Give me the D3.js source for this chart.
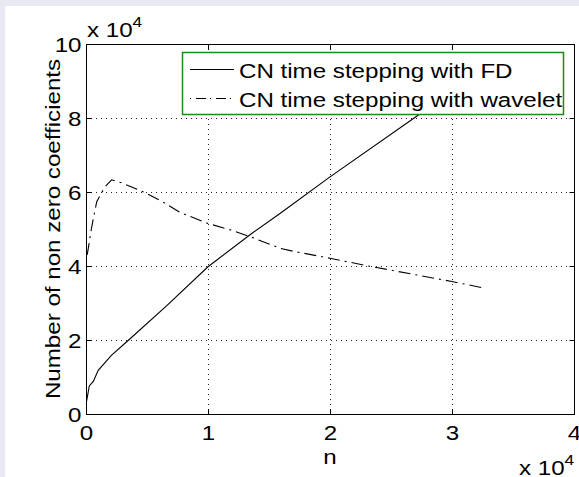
<!DOCTYPE html>
<html><head><meta charset="utf-8">
<script src="https://cdn.jsdelivr.net/npm/d3@7"></script>
<style>
body{margin:0;background:#e9e9f3;}
svg{display:block;font-family:"Liberation Sans",Arial,sans-serif;}
</style></head>
<body>
<svg id="chart" width="579" height="477"></svg>
<script>
// Data (n, number of non-zero coefficients)
const fdN   = [50, 270, 600, 1000, 2100, 3500, 6600, 10000, 13580, 15900, 20000, 27250, 32800];
const fdNnz = [3500, 7600, 8800, 11800, 15900, 20000, 29200, 39800, 48800, 54200, 64100, 80800, 93500];
const wvN   = [100, 470, 880, 1280, 1560, 2100, 2900, 4400, 6100, 7700, 10000, 11700, 13400, 15900, 17100, 20000, 23000, 30000, 32400];
const wvNnz = [43000, 50600, 57400, 59800, 61400, 63300, 62500, 60500, 57700, 54500, 51500, 49900, 48000, 44800, 43900, 42100, 40100, 35800, 34200];
const xTicks = [0, 10000, 20000, 30000, 40000];
const yTicks = [0, 20000, 40000, 60000, 80000, 100000];
const seriesNames = ["CN time stepping with FD", "CN time stepping with wavelet"];

const svg = d3.select("#chart");
const W = 579, H = 477;
const L = 86, R = 574, T = 44, B = 414;
const FS = 21;
const SX = 1.15; // horizontal glyph stretch

svg.append("rect").attr("x",0).attr("y",0).attr("width",W).attr("height",H).attr("fill","#e9e9f3");
svg.append("rect").attr("x",5).attr("y",6).attr("width",W-5).attr("height",H-6).attr("fill","#ffffff");

const x = d3.scaleLinear().domain([0,40000]).range([L,R]);
const y = d3.scaleLinear().domain([0,100000]).range([B,T]);

// grid
const g = svg.append("g");
g.selectAll(".gx").data(xTicks.slice(1,-1)).join("line")
  .attr("x1",d=>Math.round(x(d))+0.5).attr("x2",d=>Math.round(x(d))+0.5)
  .attr("y1",T).attr("y2",B).attr("stroke","#222").attr("stroke-width",1).attr("stroke-dasharray","1,4");
g.selectAll(".gy").data(yTicks.slice(1,-1)).join("line")
  .attr("y1",d=>Math.round(y(d))+0.5).attr("y2",d=>Math.round(y(d))+0.5)
  .attr("x1",L).attr("x2",R).attr("stroke","#222").attr("stroke-width",1).attr("stroke-dasharray","1,4");

// lines
const line = d3.line().x(d=>x(d[0])).y(d=>y(d[1]));
svg.append("path").datum(fdN.map((n,i)=>[n,fdNnz[i]]))
  .attr("d",line).attr("fill","none").attr("stroke","#000").attr("stroke-width",1.1);
svg.append("path").datum(wvN.map((n,i)=>[n,wvNnz[i]]))
  .attr("d",line).attr("fill","none").attr("stroke","#000").attr("stroke-width",1.1)
  .attr("stroke-dasharray","12,5,2,5");

// axes
const fmt = d => String(d/10000);
function styleAxis(sel){
  sel.select(".domain").remove();
  sel.selectAll(".tick line").attr("stroke","#000");
  sel.selectAll("text").attr("fill","#000").attr("font-size",FS);
}
const ax = svg.append("g").attr("transform",`translate(0,${B+0.5})`)
  .call(d3.axisBottom(x).tickValues(xTicks).tickFormat(fmt).tickSizeInner(-5).tickSizeOuter(0).tickPadding(0));
styleAxis(ax);
ax.selectAll("text").attr("y",26).attr("dy",null).attr("transform",`scale(${SX},1)`);
const axT = svg.append("g").attr("transform",`translate(0,${T+0.5})`)
  .call(d3.axisTop(x).tickValues(xTicks).tickFormat("").tickSizeInner(-5).tickSizeOuter(0));
styleAxis(axT);
const ay = svg.append("g").attr("transform",`translate(${L+0.5},0)`)
  .call(d3.axisLeft(y).tickValues(yTicks).tickFormat(fmt).tickSizeInner(-5).tickSizeOuter(0).tickPadding(0));
styleAxis(ay);
ay.selectAll("text").attr("x",-5/SX).attr("dy",null).attr("y",7.5).attr("text-anchor","end").attr("transform",`scale(${SX},1)`);
const ayR = svg.append("g").attr("transform",`translate(${R+0.5},0)`)
  .call(d3.axisRight(y).tickValues(yTicks).tickFormat("").tickSizeInner(-5).tickSizeOuter(0));
styleAxis(ayR);

// box
svg.append("rect").attr("x",L+0.5).attr("y",T+0.5).attr("width",R-L).attr("height",B-T)
  .attr("fill","none").attr("stroke","#000").attr("stroke-width",1);

// exponent labels
function expo(px, py){
  const t = svg.append("text").attr("transform",`translate(${px},${py}) scale(${SX},1)`)
    .attr("font-size",FS).attr("fill","#000");
  t.append("tspan").text("x 10");
  t.append("tspan").attr("font-size",15).attr("dy",-10).text("4");
}
expo(87, 37);
expo(519, 475);

// axis titles
svg.append("text").attr("transform",`translate(${(L+R)/2},464) scale(${SX},1)`)
  .attr("text-anchor","middle").attr("font-size",FS).attr("fill","#000").text("n");
svg.append("text").attr("transform",`translate(60,${(T+B)/2}) rotate(-90) scale(${SX},1)`)
  .attr("text-anchor","middle").attr("font-size",FS).attr("fill","#000").text("Number of non zero coefficients");

// legend
const lg = svg.append("g");
lg.append("rect").attr("x",182.5).attr("y",52.5).attr("width",381).attr("height",62)
  .attr("fill","#fff").attr("stroke","#1a8a1a").attr("stroke-width",1.5);
const rows = [69.5, 98.5];
lg.append("line").attr("x1",190).attr("x2",234).attr("y1",rows[0]).attr("y2",rows[0])
  .attr("stroke","#000").attr("stroke-width",1.1);
lg.append("line").attr("x1",190).attr("x2",234).attr("y1",rows[1]).attr("y2",rows[1])
  .attr("stroke","#000").attr("stroke-width",1.1).attr("stroke-dasharray","1,5,10,4");
seriesNames.forEach((s,i)=>{
  lg.append("text").attr("transform",`translate(239,${[78,107][i]}) scale(${SX},1)`)
    .attr("font-size",FS).attr("fill","#000").text(s);
});
</script>
</body></html>
